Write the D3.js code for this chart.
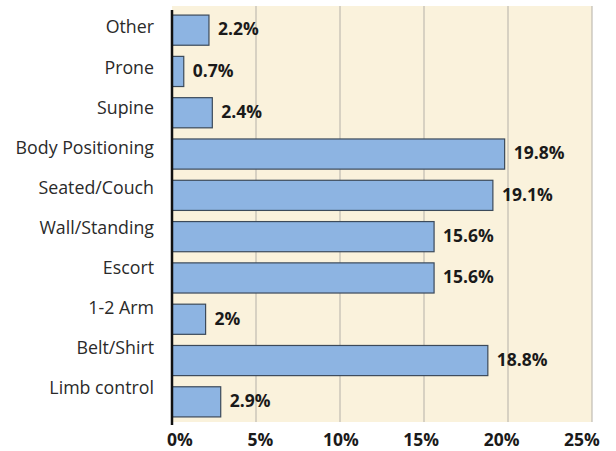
<!DOCTYPE html>
<html>
<head>
<meta charset="utf-8">
<script src="https://cdn.jsdelivr.net/npm/d3@7"></script>
<style>
  html, body { margin: 0; padding: 0; background: #ffffff; }
  svg { display: block; }
</style>
</head>
<body>
<svg id="chart" width="616" height="451"></svg>
<script>
const categories = ["Other", "Prone", "Supine", "Body Positioning", "Seated/Couch",
  "Wall/Standing", "Escort", "1-2 Arm", "Belt/Shirt", "Limb control"];
const values = [2.2, 0.7, 2.4, 19.8, 19.1, 15.6, 15.6, 2, 18.8, 2.9];
const valueLabels = ["2.2%", "0.7%", "2.4%", "19.8%", "19.1%", "15.6%", "15.6%", "2%", "18.8%", "2.9%"];
const ticks = [0, 5, 10, 15, 20, 25];
const tickLabels = ["0%", "5%", "10%", "15%", "20%", "25%"];

(function () {
const svg = d3.select("#chart");
const pLeft = 172, pRight = 592, pTop = 6, pBottom = 422;
const font = "'Open Sans', 'Noto Sans', sans-serif";

const x = d3.scaleLinear().domain([0, 25]).range([pLeft, pRight]);
// tick labels in the reference sit on a slightly narrower span
const xLab = d3.scaleLinear().domain([0, 25]).range([180, 582]);
const y = d3.scaleBand().domain(categories).range([10, 422]).paddingInner(0.27).paddingOuter(0.123);
const yLab = d3.scalePoint().domain(categories).range([27, 388]);

// background
svg.append("rect").attr("x", pLeft).attr("y", pTop)
  .attr("width", pRight - pLeft).attr("height", pBottom - pTop)
  .attr("fill", "#faf2dc");

// grid lines
svg.append("g").selectAll("line").data(ticks.slice(1)).join("line")
  .attr("x1", d => x(d)).attr("x2", d => x(d))
  .attr("y1", pTop).attr("y2", pBottom)
  .attr("stroke", "#b4b0a8").attr("stroke-width", 1);

// bars
svg.append("g").selectAll("rect").data(values).join("rect")
  .attr("x", x(0))
  .attr("y", (d, i) => y(categories[i]))
  .attr("width", d => x(d) - x(0))
  .attr("height", y.bandwidth())
  .attr("fill", "#8db4e2")
  .attr("stroke", "#3c4a5a")
  .attr("stroke-width", 1.2);

// value labels
svg.append("g").selectAll("text").data(values).join("text")
  .attr("x", d => x(d) + 9)
  .attr("y", (d, i) => y(categories[i]) + y.bandwidth() / 2 - 1)
  .attr("dy", "0.36em")
  .attr("font-family", font)
  .attr("font-size", 17.5)
  .attr("font-weight", "bold")
  .attr("fill", "#1a1a1a")
  .text((d, i) => valueLabels[i]);

// category labels
svg.append("g").selectAll("text").data(categories).join("text")
  .attr("x", 154)
  .attr("y", d => yLab(d))
  .attr("dy", "0.36em")
  .attr("text-anchor", "end")
  .attr("font-family", font)
  .attr("font-size", 17.8)
  .attr("fill", "#2a2a2a")
  .text(d => d);

// y axis line
svg.append("line")
  .attr("x1", pLeft).attr("x2", pLeft)
  .attr("y1", 10).attr("y2", 425)
  .attr("stroke", "#111").attr("stroke-width", 2.5);

// x tick labels
svg.append("g").selectAll("text").data(ticks).join("text")
  .attr("x", d => xLab(d))
  .attr("y", 446)
  .attr("text-anchor", "middle")
  .attr("font-family", font)
  .attr("font-size", 17.5)
  .attr("font-weight", "bold")
  .attr("fill", "#1a1a1a")
  .text((d, i) => tickLabels[i]);
})();
</script>
</body>
</html>
